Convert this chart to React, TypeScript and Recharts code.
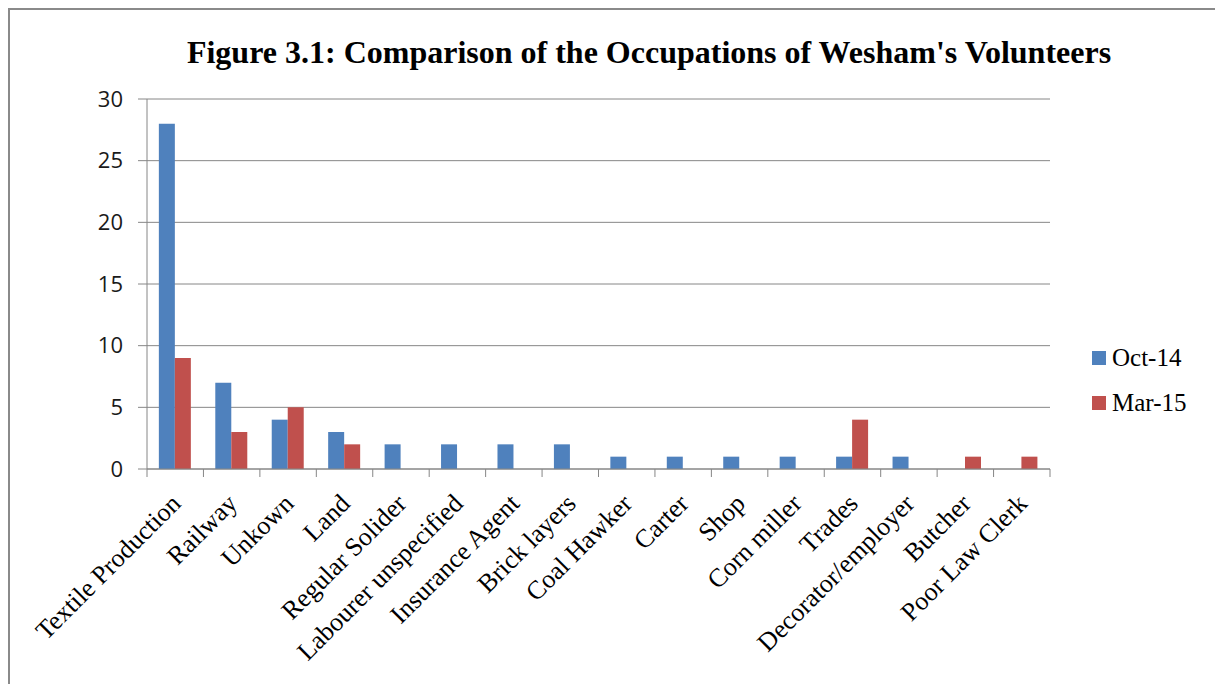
import { BarChart, Bar, XAxis, YAxis, CartesianGrid } from "recharts";

const occupations = [
	"Textile Production",
	"Railway",
	"Unkown",
	"Land",
	"Regular Solider",
	"Labourer unspecified",
	"Insurance Agent",
	"Brick layers",
	"Coal Hawker",
	"Carter",
	"Shop",
	"Corn miller",
	"Trades",
	"Decorator/employer",
	"Butcher",
	"Poor Law Clerk",
];
const oct14 = [28, 7, 4, 3, 2, 2, 2, 2, 1, 1, 1, 1, 1, 1, 0, 0];
const mar15 = [9, 3, 5, 2, 0, 0, 0, 0, 0, 0, 0, 0, 4, 0, 1, 1];
const yTicks = [0, 5, 10, 15, 20, 25, 30];

const seriesNames = ["Oct-14", "Mar-15"];
const seriesColors = ["#4F81BD", "#C0504D"];

const data = occupations.map((name, i) => ({
	name,
	oct: oct14[i],
	mar: mar15[i],
}));

const AXIS = "#868686";
const SERIF = "'Liberation Serif', 'Times New Roman', serif";

// category label, rotated, plus the tick marks between categories
const CategoryTick = (props: any) => {
	const { x, y, payload, index } = props;
	const half = payload.offset ?? 28.2;
	const last = index === occupations.length - 1;
	return (
		<g>
			<line x1={x - half} x2={x - half} y1={y} y2={y + 8} stroke={AXIS} />
			{last && <line x1={x + half} x2={x + half} y1={y} y2={y + 8} stroke={AXIS} />}
			<text
				transform={`translate(${x + 7},${y + 36}) rotate(-45)`}
				textAnchor="end"
				fontFamily={SERIF}
				fontSize={26}
				fill="#000"
			>
				{payload.value}
			</text>
		</g>
	);
};

export default function App() {
	return (
		<div
			style={{
				position: "absolute",
				left: 8,
				top: 8,
				width: 1207,
				height: 676,
				boxSizing: "border-box",
				borderTop: "2px solid #8a8a8a",
				borderLeft: "2px solid #8a8a8a",
				background: "#fff",
			}}
		>
			<div
				style={{
					position: "absolute",
					left: 39,
					top: 26,
					width: 1200,
					textAlign: "center",
					fontFamily: SERIF,
					fontWeight: "bold",
					fontSize: 32,
					lineHeight: "32px",
					color: "#000",
				}}
			>
				Figure 3.1: Comparison of the Occupations of Wesham's Volunteers
			</div>
			{/* legend */}
			<div
				style={{
					position: "absolute",
					left: 1082,
					top: 337,
					fontFamily: SERIF,
					fontSize: 25,
					color: "#000",
				}}
			>
				{seriesNames.map((n, i) => (
					<div
						key={n}
						style={{ display: "flex", alignItems: "center", height: 22, marginBottom: 23 }}
					>
						<span
							style={{
								display: "inline-block",
								width: 14,
								height: 14,
								background: seriesColors[i],
								marginRight: 6,
							}}
						/>
						<span style={{ lineHeight: "22px" }}>{n}</span>
					</div>
				))}
			</div>
			<BarChart
				width={1205}
				height={674}
				data={data}
				margin={{ top: 89, right: 165, bottom: 0, left: 0 }}
				barCategoryGap="21%"
				barGap={0}
			>
				<CartesianGrid vertical={false} stroke={AXIS} />
				<XAxis
					dataKey="name"
					interval={0}
					height={215}
					tickSize={0}
					tickMargin={0}
					tickLine={false}
					axisLine={{ stroke: AXIS }}
					tick={<CategoryTick />}
				/>
				<YAxis
					width={137}
					domain={[0, 30]}
					ticks={yTicks}
					interval={0}
					tickSize={9}
					tickMargin={15}
					axisLine={{ stroke: AXIS }}
					tickLine={{ stroke: AXIS }}
					tick={{ fill: "#1a1a1a", fontSize: 22, fontFamily: "'Open Sans', sans-serif" }}
				/>
				<Bar dataKey="oct" name={seriesNames[0]} fill={seriesColors[0]} isAnimationActive={false} />
				<Bar dataKey="mar" name={seriesNames[1]} fill={seriesColors[1]} isAnimationActive={false} />
			</BarChart>
		</div>
	);
}
